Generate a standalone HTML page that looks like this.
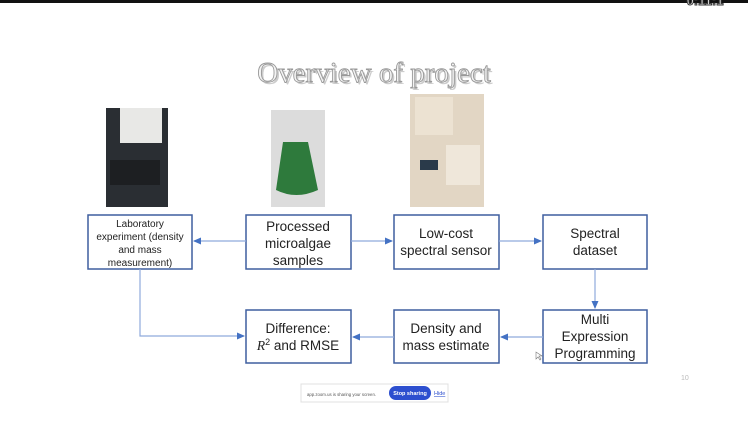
<!DOCTYPE html>
<html><head><meta charset="utf-8"><style>
html,body{margin:0;padding:0;background:#fff;}
svg{display:block;font-family:"Liberation Sans",Calibri,sans-serif;}
</style></head><body>
<svg width="748" height="422" viewBox="0 0 748 422" xmlns="http://www.w3.org/2000/svg">
<defs>
<marker id="a" markerWidth="8" markerHeight="8" refX="7" refY="4" orient="auto" markerUnits="userSpaceOnUse"><path d="M0,0.5 L8,4 L0,7.5 z" fill="#4472c4"/></marker>
</defs>
<rect x="0" y="0" width="748" height="3" fill="#111"/>
<text x="705" y="5" font-size="13" fill="#fff" stroke="#333" stroke-width="1" text-anchor="middle" font-weight="bold">0:11:1</text>
<text x="375" y="83" font-family="Liberation Serif,serif" font-size="29" fill="#ccc" text-anchor="middle" dx="1" dy="1">Overview of project</text>
<text x="374" y="82" font-family="Liberation Serif,serif" font-size="29" fill="#f4f4f4" stroke="#999" stroke-width="0.9" text-anchor="middle">Overview of project</text>
<!-- photos -->
<rect x="106" y="108" width="62" height="99" fill="#2a2e33"/>
<rect x="120" y="108" width="42" height="35" fill="#e8e8e6"/>
<rect x="110" y="160" width="50" height="25" fill="#1d1f22"/>
<rect x="271" y="110" width="54" height="97" fill="#dcdcdc"/>
<path d="M283,142 L308,142 L318,190 Q296,200 276,190 Z" fill="#2e7a3c"/>
<rect x="410" y="94" width="74" height="113" fill="#e2d6c4"/>
<rect x="415" y="97" width="38" height="38" fill="#ece2d2"/>
<rect x="446" y="145" width="34" height="40" fill="#efe7da"/>
<rect x="420" y="160" width="18" height="10" fill="#2a3a4a"/>
<!-- boxes -->
<g fill="#fff" stroke="#3f5f9f" stroke-width="1.5">
<rect x="88" y="215" width="104" height="54"/>
<rect x="246" y="215" width="105" height="54"/>
<rect x="394" y="215" width="105" height="54"/>
<rect x="543" y="215" width="104" height="54"/>
<rect x="543" y="310" width="104" height="53"/>
<rect x="394" y="310" width="105" height="53"/>
<rect x="246" y="310" width="105" height="53"/>
</g>
<g fill="none" stroke="#8faadc" stroke-width="1.2">
<line x1="246" y1="241" x2="194" y2="241" marker-end="url(#a)"/>
<line x1="351" y1="241" x2="392" y2="241" marker-end="url(#a)"/>
<line x1="499" y1="241" x2="541" y2="241" marker-end="url(#a)"/>
<line x1="595" y1="269" x2="595" y2="308" marker-end="url(#a)"/>
<line x1="543" y1="337" x2="501" y2="337" marker-end="url(#a)"/>
<line x1="394" y1="337" x2="353" y2="337" marker-end="url(#a)"/>
<polyline points="140,269 140,336 244,336" marker-end="url(#a)"/>
</g>
<g fill="#222" text-anchor="middle">
<g font-size="10"><text x="140" y="227">Laboratory</text><text x="140" y="240">experiment (density</text><text x="140" y="253">and mass</text><text x="140" y="266">measurement)</text></g>
<g font-size="13.5"><text x="298" y="231">Processed</text><text x="298" y="248">microalgae</text><text x="298" y="265">samples</text></g>
<g font-size="13.5"><text x="446" y="238">Low-cost</text><text x="446" y="255">spectral sensor</text></g>
<g font-size="13.5"><text x="595" y="238">Spectral</text><text x="595" y="255">dataset</text></g>
<g font-size="13.5"><text x="595" y="324">Multi</text><text x="595" y="341">Expression</text><text x="595" y="358">Programming</text></g>
<g font-size="13.5"><text x="446" y="333">Density and</text><text x="446" y="350">mass estimate</text></g>
<g font-size="13.5"><text x="298" y="333">Difference:</text><text x="298" y="350"><tspan font-family="Liberation Serif,serif" font-style="italic">R</tspan><tspan font-size="9" dy="-5">2</tspan><tspan dy="5"> and RMSE</tspan></text></g>
</g>
<text x="681" y="380" font-size="7" fill="#bbb">10</text>
<!-- zoom bar -->
<rect x="301" y="384" width="147" height="18" fill="#fff" stroke="#e0e0e0"/>
<text x="307" y="396" font-size="4.3" fill="#555">app.zoom.us is sharing your screen.</text>
<rect x="389" y="386" width="42" height="14" rx="7" fill="#2d4fcf"/>
<text x="410" y="395" font-size="5.5" fill="#fff" text-anchor="middle" font-weight="bold">Stop sharing</text>
<text x="434" y="395" font-size="5.5" fill="#2d4fcf" text-decoration="underline">Hide</text>
<path d="M536,352 l0,7 l2,-2 l2,3 l1,-1 l-2,-3 l3,0 z" fill="#fff" stroke="#777" stroke-width="0.6"/>
</svg>
</body></html>
